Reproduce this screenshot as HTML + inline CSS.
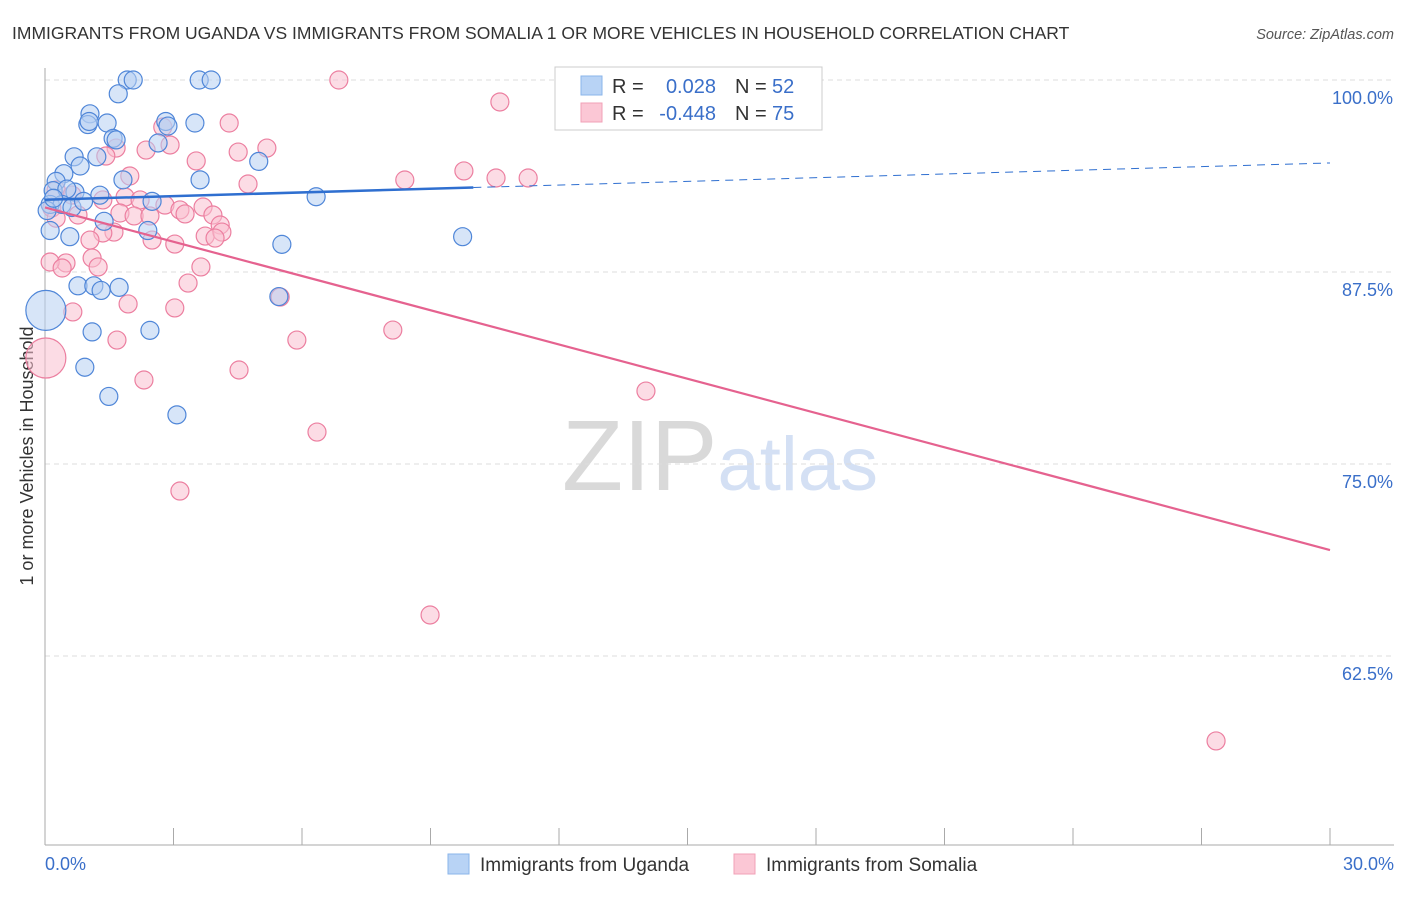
<!DOCTYPE html>
<html><head><meta charset="utf-8"><style>
body{margin:0;background:#fff;font-family:"Liberation Sans",sans-serif}
svg text{font-family:"Liberation Sans",sans-serif}
</style></head><body>
<svg id="chart" width="1406" height="892" xmlns="http://www.w3.org/2000/svg">
<text x="12" y="39" font-size="17.5" fill="#333">IMMIGRANTS FROM UGANDA VS IMMIGRANTS FROM SOMALIA 1 OR MORE VEHICLES IN HOUSEHOLD CORRELATION CHART</text>
<text x="1394" y="39" font-size="14.5" fill="#555" text-anchor="end" font-style="italic">Source: ZipAtlas.com</text>
<text x="720" y="490" font-size="100" text-anchor="middle" fill="#ddd" font-family="Liberation Serif"><tspan fill="#d9d9d9">ZIP</tspan><tspan fill="#d4e0f4" font-family="Liberation Sans" font-size="76">atlas</tspan></text>
<text transform="translate(33,456) rotate(-90)" font-size="18" fill="#333" text-anchor="middle">1 or more Vehicles in Household</text>
<g id="grid"></g><g id="axes"></g><g id="pts"></g><g id="trend"></g>
<g>
<rect x="555" y="67" width="267" height="63" fill="#fff" stroke="#ccc"/>
<rect x="581" y="76" width="21" height="19" fill="#b8d3f5" stroke="#8ab4ea"/>
<rect x="581" y="103" width="21" height="19" fill="#fbc7d5" stroke="#f2a0b7"/>
<text x="612" y="93" font-size="20" fill="#333">R =</text><text x="716" y="93" font-size="20" fill="#3a6fc9" text-anchor="end">0.028</text>
<text x="735" y="93" font-size="20" fill="#333">N =</text><text x="772" y="93" font-size="20" fill="#3a6fc9">52</text>
<text x="612" y="120" font-size="20" fill="#333">R =</text><text x="716" y="120" font-size="20" fill="#3a6fc9" text-anchor="end">-0.448</text>
<text x="735" y="120" font-size="20" fill="#333">N =</text><text x="772" y="120" font-size="20" fill="#3a6fc9">75</text>
</g>
<g>
<rect x="448" y="854" width="21" height="20" fill="#b8d3f5" stroke="#8ab4ea"/>
<text x="480" y="871" font-size="19" fill="#333">Immigrants from Uganda</text>
<rect x="734" y="854" width="21" height="20" fill="#fbc7d5" stroke="#f2a0b7"/>
<text x="766" y="871" font-size="19" fill="#333">Immigrants from Somalia</text>
</g>
</svg>
<script>
const yTicks=[100,87.5,75,62.5];
const yTickLabels=["100.0%","87.5%","75.0%","62.5%"];
const xTickLabels=["0.0%","30.0%"];
const ugX=[1.92,2.06,3.6,3.88,1.71,1.05,1.0,1.03,1.45,3.5,2.82,2.87,1.59,1.66,2.64,0.68,1.21,0.82,0.44,0.26,4.99,3.62,1.82,0.19,0.7,0.51,1.28,2.5,6.33,0.12,0.4,0.63,1.38,0.12,0.58,5.53,9.75,0.77,1.14,1.73,1.31,5.46,1.1,2.45,0.93,1.49,3.08,0.02,0.05,0.2,0.9,2.4];
const ugY=[100,100,100,100,99.1,97.8,97.1,97.3,97.2,97.2,97.3,97.0,96.2,96.1,95.9,95.0,95.0,94.4,93.9,93.4,94.7,93.5,93.5,92.8,92.7,92.9,92.5,92.1,92.4,91.9,91.9,91.7,90.8,90.2,89.8,89.3,89.8,86.6,86.6,86.5,86.3,85.9,83.6,83.7,81.3,79.4,78.2,85.0,91.5,92.3,92.1,90.2];
const soX=[6.86,10.62,2.75,4.30,1.66,1.42,2.36,2.92,4.51,5.18,3.53,1.98,4.74,8.40,9.78,10.53,11.28,0.26,0.63,1.87,2.22,2.80,1.35,3.15,3.69,0.77,1.75,2.08,2.45,3.27,3.92,4.09,1.61,1.35,1.05,2.50,3.03,3.74,4.13,3.97,1.10,1.24,0.49,0.12,0.40,3.34,3.64,0.65,1.94,3.03,5.49,1.68,5.88,8.12,2.31,4.53,14.03,6.35,3.15,8.99,27.34,0.02,0.16,0.26];
const soY=[100,98.57,96.94,97.2,95.57,95.05,95.44,95.77,95.31,95.57,94.73,93.75,93.23,93.49,94.08,93.62,93.62,92.84,92.51,92.38,92.19,91.86,92.19,91.54,91.73,91.21,91.34,91.15,91.15,91.28,91.21,90.56,90.10,90.04,89.58,89.58,89.32,89.84,90.10,89.71,88.41,87.83,88.09,88.15,87.76,86.78,87.83,84.9,85.42,85.16,85.87,83.07,83.07,83.72,80.47,81.12,79.75,77.08,73.24,65.17,56.97,81.9,91.67,91.0];
const ugLine=[[0,92.2],[10,93.0]], ugDash=[[10,93.0],[30,94.6]];
const soLine=[[0,91.7],[30,69.4]];
const X=v=>45+v/30*1285, Y=v=>80+(100-v)*15.36;
const NS="http://www.w3.org/2000/svg";
function mk(p,t,a){const e=document.createElementNS(NS,t);for(const k in a)e.setAttribute(k,a[k]);document.getElementById(p).appendChild(e);return e;}
yTicks.forEach((t,i)=>{
 const g=mk('grid','line',{x1:45,x2:1394,y1:Y(t),y2:Y(t),stroke:'#ddd','stroke-dasharray':'5,4'});
 
 
 const l=mk('grid','text',{x:1393,y:Y(t)+24,'font-size':18,fill:'#3a6fc9','text-anchor':'end'});l.textContent=yTickLabels[i];
 
 
});
const ax=mk('axes','line',{x1:45,x2:45,y1:68,y2:845,stroke:'#aaa'});


const bx=mk('axes','line',{x1:45,x2:1394,y1:845,y2:845,stroke:'#aaa'});


for(let i=0;i<=10;i++){const t=mk('axes','line',{x1:X(i*3),x2:X(i*3),y1:828,y2:845,stroke:'#aaa'});
 
 }
[[0,'start',45],[1,'end',1394]].forEach(([i,a,x])=>{const t=mk('axes','text',{x:x,y:870,'font-size':18,fill:'#3a6fc9','text-anchor':a});t.textContent=xTickLabels[i];
 
 });
function pts(xs,ys,f,s,name,bigIdx){xs.forEach((x,i)=>{const c=mk('pts','circle',{cx:X(x),cy:Y(ys[i]),r:i===bigIdx?20:9,fill:f,'fill-opacity':0.55,stroke:s,'stroke-width':1.2});
 
 });}
pts(soX,soY,'#f9bfd0','#ec7fa0','somalia-point',61);
pts(ugX,ugY,'#b6d0f3','#4f86d8','uganda-point',47);
function ln(p,c,w,d,name){const l=mk('trend','line',{x1:X(p[0][0]),y1:Y(p[0][1]),x2:X(p[1][0]),y2:Y(p[1][1]),stroke:c,'stroke-width':w});if(d)l.setAttribute('stroke-dasharray',d);
 
 }
ln(soLine,'#e5628f',2.2,null,'somalia-trend-line');
ln(ugLine,'#2f6fd0',2.5,null,'uganda-trend-line');
ln(ugDash,'#2f6fd0',1,'8,6','uganda-trend-extension');
</script>
</body></html>
